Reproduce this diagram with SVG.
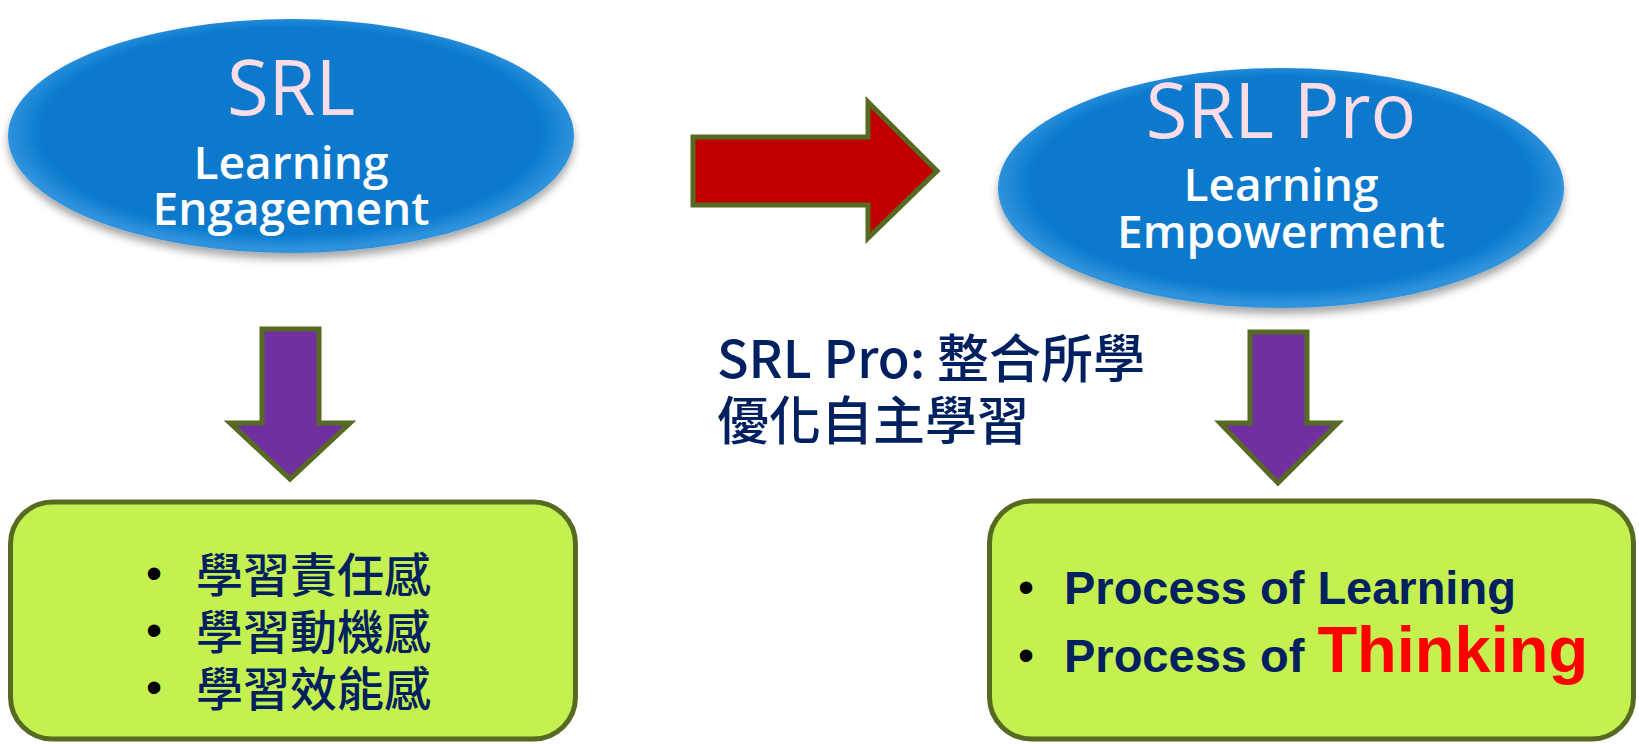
<svg xmlns="http://www.w3.org/2000/svg" width="1639" height="744" viewBox="0 0 1639 744">
  <defs>
    <radialGradient id="ellFill" cx="50%" cy="48%" r="50%">
      <stop offset="0%" stop-color="#0779CD"/>
      <stop offset="88%" stop-color="#0779CD"/>
      <stop offset="100%" stop-color="#2F92DC"/>
    </radialGradient>
    <filter id="shadow" x="-10%" y="-10%" width="120%" height="130%">
      <feGaussianBlur in="SourceAlpha" stdDeviation="4"/>
      <feOffset dx="0" dy="6" result="b"/>
      <feComponentTransfer><feFuncA type="linear" slope="0.35"/></feComponentTransfer>
      <feMerge><feMergeNode/><feMergeNode in="SourceGraphic"/></feMerge>
    </filter>
  </defs>
  <style>
    .ell { fill: url(#ellFill); filter: url(#shadow); }
    .title { font-family: "Open Sans", "Noto Sans", sans-serif; fill: #FCDCE6; text-anchor: middle; font-weight: 500; }
    .sub { font-family: "Open Sans", "Noto Sans", sans-serif; fill: #FFFFFF; text-anchor: middle; font-size: 46px; font-weight: 600; }
    .box { fill: #C4F050; stroke: #566A22; stroke-width: 5; }
    .arrow { stroke: #566A22; stroke-width: 5; stroke-linejoin: miter; }
    .purple { fill: #7030A0; }
    .red { fill: #C00000; }
    .cjk { font-family: "Noto Sans CJK TC", "Noto Sans CJK SC", sans-serif; fill: #002060; font-weight: 500; }
    .bullet { font-family: "Liberation Sans", Arial, sans-serif; fill: #000000; }
    .proc { font-family: "Liberation Sans", Arial, sans-serif; font-weight: bold; fill: #002060; font-size: 47px; }
    .think { font-family: "Liberation Sans", Arial, sans-serif; font-weight: bold; fill: #FF0000; font-size: 65px; }
  </style>

  <g id="node-srl">
    <ellipse class="ell" cx="291" cy="136" rx="283" ry="117"/>
    <text class="title" x="291" y="115" font-size="76">SRL</text>
    <text class="sub" x="291" y="179">Learning</text>
    <text class="sub" x="291" y="225">Engagement</text>
  </g>

  <g id="node-srlpro">
    <ellipse class="ell" cx="1281" cy="188" rx="283" ry="120"/>
    <text class="title" x="1281" y="138" font-size="76">SRL Pro</text>
    <text class="sub" x="1281" y="201">Learning</text>
    <text class="sub" x="1281" y="248">Empowerment</text>
  </g>

  <g id="node-middle-text">
    <text class="cjk" x="717" y="378" font-size="52">SRL Pro: 整合所學</text>
    <text class="cjk" x="717" y="440" font-size="52">優化自主學習</text>
  </g>

  <g id="node-box-left">
    <rect class="box" x="10.5" y="502" width="565" height="237" rx="42" ry="42"/>
    <text class="bullet" x="146" y="589" font-size="46">•</text>
    <text class="bullet" x="146" y="646" font-size="46">•</text>
    <text class="bullet" x="146" y="703" font-size="46">•</text>
    <text class="cjk" x="196" y="592" font-size="47">學習責任感</text>
    <text class="cjk" x="196" y="649" font-size="47">學習動機感</text>
    <text class="cjk" x="196" y="706" font-size="47">學習效能感</text>
  </g>

  <g id="node-box-right">
    <rect class="box" x="989.5" y="501" width="644" height="238" rx="42" ry="42"/>
    <text class="bullet" x="1018" y="603" font-size="46">•</text>
    <text class="bullet" x="1018" y="671" font-size="46">•</text>
    <text class="proc" x="1064" y="604">Process of Learning</text>
    <text x="1064" y="672"><tspan class="proc">Process of </tspan><tspan class="think">Thinking</tspan></text>
  </g>

  <g id="connectors">
    <polygon class="arrow red" points="693,137 868,137 868,102 937,171 868,238 868,205 693,205"/>
    <polygon class="arrow purple" points="262,329 319,329 319,423 350,423 290,479 230,423 262,423"/>
    <polygon class="arrow purple" points="1250,332 1307,332 1307,423 1338,423 1278,483 1220,423 1250,423"/>
  </g>
</svg>
